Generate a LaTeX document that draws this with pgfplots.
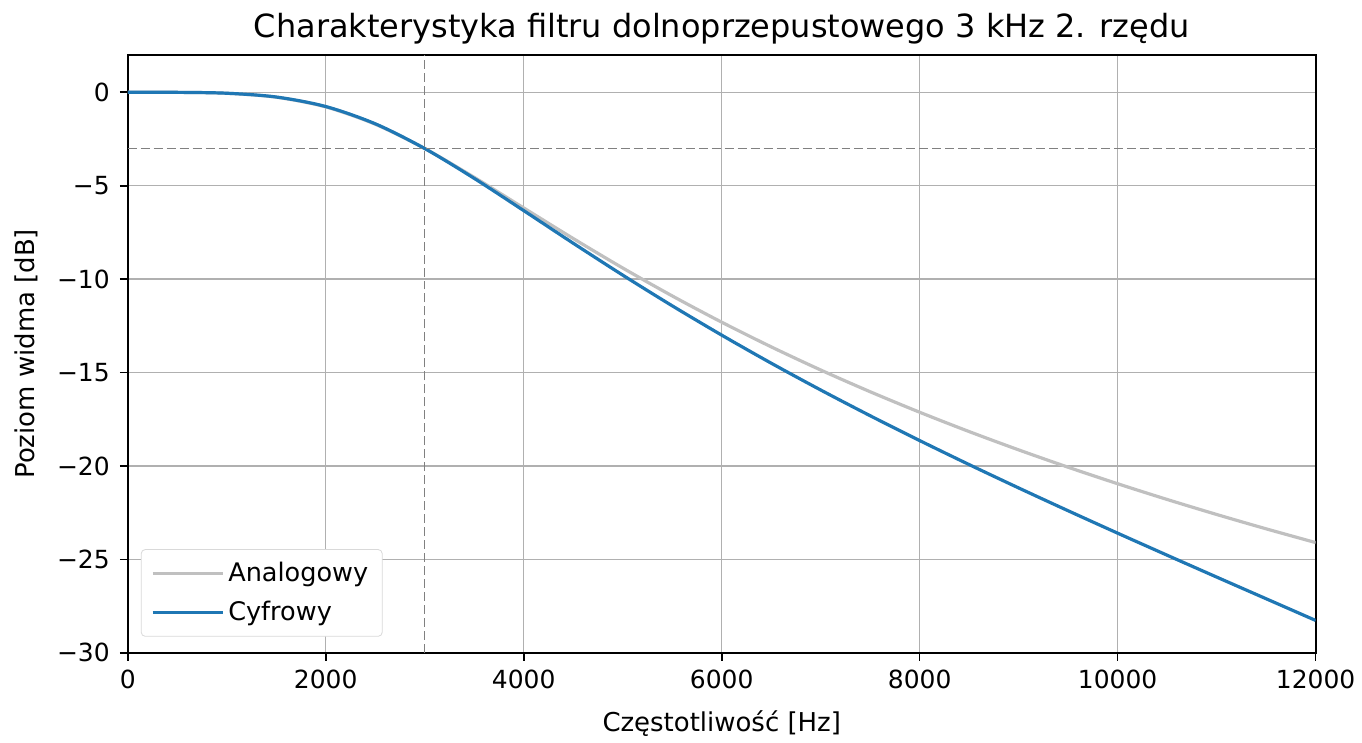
\documentclass[border=0pt]{standalone}
\usepackage{fontspec}
\setmainfont{DejaVu Sans}
\usepackage{pgfplots}
\pgfplotsset{compat=1.18}
\definecolor{mplblue}{RGB}{31,119,180}
\definecolor{analog}{RGB}{192,192,192}
\definecolor{gridc}{RGB}{176,176,176}
\definecolor{refc}{RGB}{128,128,128}

\begin{document}
\begin{tikzpicture}
\begin{axis}[
  scale only axis,
  width=595pt, height=299.5pt,
  xmin=0, xmax=12000, ymin=-30, ymax=2,
  xtick={0,2000,4000,6000,8000,10000,12000},
  xticklabels={0,2000,4000,6000,8000,10000,12000},
  ytick={-30,-25,-20,-15,-10,-5,0},
  yticklabels={−30,−25,−20,−15,−10,−5,0},
  scaled ticks=false,
  tick align=outside, tick pos=left,
  major tick length=4pt,
  every tick/.style={black, line width=0.8pt},
  axis line style={line width=0.9pt},
  grid=major,
  grid style={gridc, line width=0.7pt},
  tick label style={font=\fontsize{12.5}{15}\selectfont},
  xticklabel style={yshift=-1pt},
  yticklabel style={xshift=-1.5pt},
  label style={font=\fontsize{13}{15.5}\selectfont},
  xlabel style={yshift=-4pt},
  ylabel style={yshift=2.5pt},
  title style={font=\fontsize{16}{19}\selectfont, yshift=-4pt},
  title={Charakterystyka filtru dolnoprzepustowego 3 kHz 2. rzędu},
  xlabel={Częstotliwość [Hz]},
  ylabel={Poziom widma [dB]},
  legend style={at={(0.011,0.027)}, anchor=south west,
    draw=gray!30, rounded corners=2pt, fill=white,
    font=\fontsize{12.8}{15}\selectfont, row sep=4pt,
    inner xsep=5pt, inner ysep=4.5pt},
  legend cell align=left,
  legend image code/.code={\draw[#1] (0pt,0pt) -- (28pt,0pt); \path (0pt,0pt) -- (35pt,0pt);},
]
\addplot[analog, line width=1.6pt, smooth] coordinates {
(0,0) (500,-0.0034) (1000,-0.0533) (1500,-0.2633) (2000,-0.7828)
(2500,-1.7092) (3000,-3.0103) (3500,-4.5525) (4000,-6.1914)
(4500,-7.8266) (5000,-9.4032) (5500,-10.898) (6000,-12.3045)
(6500,-13.624) (7000,-14.863) (7500,-16.027) (8000,-17.124)
(8500,-18.159) (9000,-19.138) (9500,-20.067) (10000,-20.950)
(10500,-21.792) (11000,-22.595) (11500,-23.363) (12000,-24.099)
};
\addplot[mplblue, line width=1.6pt, smooth] coordinates {
(0,0) (500,-0.0032) (1000,-0.0508) (1500,-0.2531) (2000,-0.7614)
(2500,-1.6857) (3000,-3.0103) (3500,-4.6085) (4000,-6.3335)
(4500,-8.0787) (5000,-9.7852) (5500,-11.427) (6000,-12.997)
(6500,-14.498) (7000,-15.933) (7500,-17.311) (8000,-18.640)
(8500,-19.926) (9000,-21.176) (9500,-22.397) (10000,-23.596)
(10500,-24.776) (11000,-25.945) (11500,-27.106) (12000,-28.266)
};
\addplot[refc, line width=0.7pt, dash pattern=on 4.5pt off 2pt, forget plot] coordinates {(3000,-30) (3000,2)};
\addplot[refc, line width=0.7pt, dash pattern=on 4.5pt off 2pt, forget plot] coordinates {(0,-3) (12000,-3)};
\legend{Analogowy, Cyfrowy}
\end{axis}
\path (current axis.south west) ++(-64pt,-41pt) rectangle ++(681pt,368pt);
\end{tikzpicture}
\end{document}
